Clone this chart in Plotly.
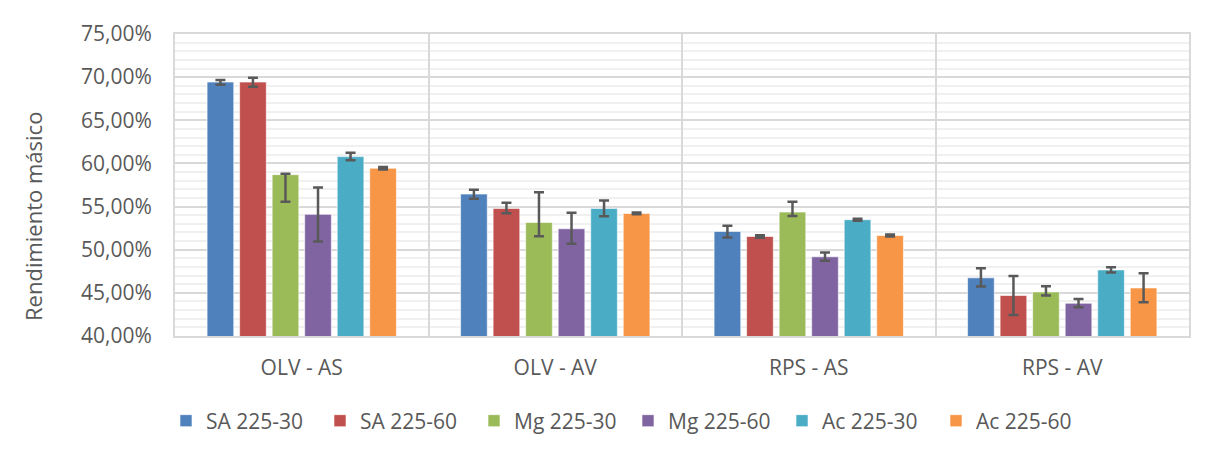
import plotly.graph_objects as go

categories = ["OLV - AS", "OLV - AV", "RPS - AS", "RPS - AV"]
series_names = ["SA 225-30", "SA 225-60", "Mg 225-30", "Mg 225-60", "Ac 225-30", "Ac 225-60"]
colors = ["#4F81BD", "#C0504D", "#9BBB59", "#8064A2", "#4BACC6", "#F79646"]

sa_225_30 = [69.43, 56.45, 52.12, 46.74]
sa_225_60 = [69.43, 54.79, 51.54, 44.69]
mg_225_30 = [58.70, 53.16, 54.36, 45.11]
mg_225_60 = [54.10, 52.43, 49.18, 43.80]
ac_225_30 = [60.79, 54.79, 53.48, 47.66]
ac_225_60 = [59.44, 54.21, 51.65, 45.57]

sa_225_30_err_plus = [0.25, 0.50, 0.65, 1.12]
sa_225_30_err_minus = [0.30, 0.55, 0.70, 1.01]
sa_225_60_err_plus = [0.50, 0.65, 0.15, 2.25]
sa_225_60_err_minus = [0.55, 0.55, 0.15, 2.25]
mg_225_30_err_plus = [0.10, 3.50, 1.20, 0.66]
mg_225_30_err_minus = [3.15, 1.60, 0.45, 0.42]
mg_225_60_err_plus = [3.10, 1.85, 0.50, 0.50]
mg_225_60_err_minus = [3.15, 1.75, 0.45, 0.47]
ac_225_30_err_plus = [0.45, 0.90, 0.12, 0.30]
ac_225_30_err_minus = [0.42, 0.90, 0.12, 0.30]
ac_225_60_err_plus = [0.15, 0.10, 0.12, 1.70]
ac_225_60_err_minus = [0.15, 0.10, 0.12, 1.65]

y_ticks = [0.40, 0.45, 0.50, 0.55, 0.60, 0.65, 0.70, 0.75]

series_values = [sa_225_30, sa_225_60, mg_225_30, mg_225_60, ac_225_30, ac_225_60]
err_plus = [sa_225_30_err_plus, sa_225_60_err_plus, mg_225_30_err_plus,
            mg_225_60_err_plus, ac_225_30_err_plus, ac_225_60_err_plus]
err_minus = [sa_225_30_err_minus, sa_225_60_err_minus, mg_225_30_err_minus,
             mg_225_60_err_minus, ac_225_30_err_minus, ac_225_60_err_minus]

FONT = "Open Sans"
TXT = "#595959"
FS = 21

fig = go.Figure()
for name, col, vals, ep, em in zip(series_names, colors, series_values, err_plus, err_minus):
    fig.add_trace(go.Bar(
        name=name,
        x=categories,
        y=[v / 100 for v in vals],
        marker=dict(color=col, line=dict(color="rgba(255,255,255,0.6)", width=1)),
        error_y=dict(
            type="data", symmetric=False,
            array=[e / 100 for e in ep],
            arrayminus=[e / 100 for e in em],
            color="#595959", thickness=2.5, width=5,
        ),
    ))

# page body has an 8px margin; work in window pixel coordinates
OFF = 8
WIN_W, WIN_H = 1215, 456
W, H = WIN_W - OFF, WIN_H - OFF
PL, PR, PT, PB = 175, 1189, 34, 336  # plot area in window pixels
L = PL - OFF
T = PT - OFF
R = W - (PR - OFF)
B = H - (PB - OFF)
pw = PR - PL
ph = PB - PT

def px_x(x):
    return (x - PL) / pw

def px_y(y):
    return (PB - y) / ph

fig.update_layout(
    width=W, height=H,
    margin=dict(l=L, r=R, t=T, b=B, pad=0),
    paper_bgcolor="white",
    plot_bgcolor="white",
    barmode="group",
    bargap=0.23,
    bargroupgap=0.18,
    separators=",.",
    font=dict(family=FONT, color=TXT, size=FS),
    showlegend=True,
    legend=dict(
        orientation="h",
        x=px_x(166), xanchor="left",
        y=px_y(421), yanchor="middle",
        font=dict(family=FONT, size=FS, color=TXT),
        entrywidth=109,
        itemclick=False,
        bgcolor="rgba(0,0,0,0)",
    ),
    xaxis=dict(
        type="category",
        tickson="boundaries",
        showgrid=True,
        gridcolor="#D9D9D9",
        gridwidth=2,
        showline=True,
        linecolor="#D9D9D9",
        linewidth=2,
        mirror=True,
        ticks="",
        ticklabelstandoff=12,
        tickfont=dict(family=FONT, size=FS, color=TXT),
        zeroline=False,
    ),
    yaxis=dict(
        range=[0.40, 0.75],
        tickvals=y_ticks,
        tickformat=".2%",
        showgrid=True,
        gridcolor="#D9D9D9",
        gridwidth=2,
        minor=dict(dtick=0.01, showgrid=True, gridcolor="#F0F0F0", gridwidth=2),
        showline=True,
        linecolor="#D9D9D9",
        linewidth=2,
        mirror=True,
        ticks="",
        ticklabelstandoff=17,
        tickfont=dict(family=FONT, size=FS, color=TXT),
        zeroline=False,
    ),
    annotations=[dict(
        text="Rendimiento másico",
        x=px_x(33), y=px_y(217),
        xref="paper", yref="paper",
        textangle=-90, showarrow=False,
        font=dict(family=FONT, size=22, color=TXT),
        xanchor="center", yanchor="middle",
    )],
    shapes=[
        dict(type="line", xref="paper", yref="paper",
             x0=px_x(7), x1=px_x(WIN_W + 5), y0=px_y(5), y1=px_y(5),
             line=dict(color="#D9D9D9", width=2)),
        dict(type="line", xref="paper", yref="paper",
             x0=px_x(7), x1=px_x(7), y0=px_y(5), y1=px_y(WIN_H + 5),
             line=dict(color="#D9D9D9", width=2)),
    ],
)

fig.write_html("out.html")
